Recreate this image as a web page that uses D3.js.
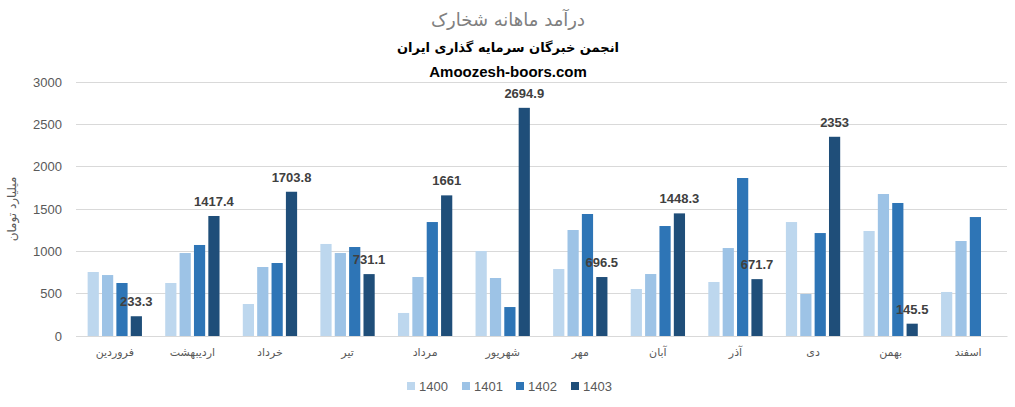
<!DOCTYPE html>
<html><head><meta charset="utf-8">
<script src="https://cdn.jsdelivr.net/npm/d3@7"></script>
<style>body{margin:0;background:#fff}svg{display:block}</style>
</head><body><svg id="c" width="1015" height="407"></svg>
<script>
const months = ["فروردین","اردیبهشت","خرداد","تیر","مرداد","شهریور","مهر","آبان","آذر","دی","بهمن","اسفند"];
const years = ["1400","1401","1402","1403"];
const v1400 = [756,626,378,1087,272,1004,791,555,638,1346,1240,520];
const v1401 = [720,980,815,980,697,685,1252,732,1039,496,1677,1122];
const v1402 = [626,1075,862,1051,1346,342,1441,1299,1866,1216,1571,1405];
const v1403 = [233.3,1417.4,1703.8,731.1,1661,2694.9,696.5,1448.3,671.7,2353,145.5,null];
const yTicks = [0,500,1000,1500,2000,2500,3000];
const colors = ["#BDD7EE","#9DC3E6","#2E75B6","#1F4E79"];
const series = [v1400,v1401,v1402,v1403];

const svg = d3.select("#c");
const m = {l:76, r:1007, t:82, b:336};
const x = d3.scaleBand().domain(months).range([m.l,m.r]).paddingInner(0.3).paddingOuter(0.15);
const xs = d3.scaleBand().domain(years).range([0,x.bandwidth()]).paddingInner(0.22);
const y = d3.scaleLinear().domain([0,3000]).range([m.b,m.t]);

// gridlines
svg.append("g").selectAll("line").data(yTicks).join("line")
  .attr("x1",m.l).attr("x2",m.r).attr("y1",d=>y(d)).attr("y2",d=>y(d))
  .attr("stroke","#d9d9d9").attr("stroke-width",1).attr("shape-rendering","crispEdges");

// y axis labels
const yAxis = d3.axisLeft(y).tickValues(yTicks).tickFormat(d3.format("d")).tickSize(0).tickPadding(14);
const ya = svg.append("g").attr("transform",`translate(${m.l},0)`).call(yAxis);
ya.select(".domain").remove();
ya.selectAll("text").attr("font-family","'Liberation Sans',Arial,sans-serif").attr("font-size",13).attr("fill","#595959");

// bars
series.forEach((s,i)=>{
  svg.append("g").selectAll("rect").data(months.map((mo,j)=>({mo,v:s[j]})).filter(d=>d.v!=null)).join("rect")
    .attr("x",d=>x(d.mo)+xs(years[i])).attr("width",xs.bandwidth())
    .attr("y",d=>y(d.v)).attr("height",d=>y(0)-y(d.v)).attr("fill",colors[i]);
});

// data labels on 1403
svg.append("g").selectAll("text").data(months.map((mo,j)=>({mo,v:v1403[j]})).filter(d=>d.v!=null)).join("text")
  .attr("x",d=>x(d.mo)+xs("1403")+xs.bandwidth()/2).attr("y",d=>y(d.v)-10)
  .attr("text-anchor","middle").attr("font-family","'Liberation Sans',Arial,sans-serif")
  .attr("font-weight","bold").attr("font-size",13).attr("fill","#404040").text(d=>d.v);

// x axis labels
const xa = svg.append("g").attr("transform",`translate(0,${m.b})`).call(d3.axisBottom(x).tickSize(0).tickPadding(12));
xa.select(".domain").attr("stroke","#d9d9d9");
xa.selectAll("text").attr("font-family","'DejaVu Sans',sans-serif").attr("font-size",11).attr("fill","#595959");

// titles
svg.append("text").attr("x",508).attr("y",26).attr("text-anchor","middle").attr("font-family","'DejaVu Sans',sans-serif").attr("font-size",18).attr("fill","#808080").text("درآمد ماهانه شخارک");
svg.append("text").attr("x",508).attr("y",52).attr("text-anchor","middle").attr("font-family","'DejaVu Sans',sans-serif").attr("font-weight","bold").attr("font-size",13).attr("fill","#000").text("انجمن خبرگان سرمایه گذاری ایران");
svg.append("text").attr("x",508).attr("y",77).attr("text-anchor","middle").attr("font-family","'Liberation Sans',Arial,sans-serif").attr("font-weight","bold").attr("font-size",15).attr("fill","#000").text("Amoozesh-boors.com");

// y title
svg.append("text").attr("transform","translate(16,209) rotate(-90)").attr("text-anchor","middle").attr("font-family","'DejaVu Sans',sans-serif").attr("font-size",12).attr("fill","#595959").text("میلیارد تومان");

// legend
const lg = svg.append("g").attr("transform","translate(0,387)");
const lx = [407,462,516,571];
years.forEach((yr,i)=>{
  lg.append("rect").attr("x",lx[i]).attr("y",-5).attr("width",8).attr("height",8).attr("fill",colors[i]);
  lg.append("text").attr("x",lx[i]+12).attr("y",4).attr("font-family","'Liberation Sans',Arial,sans-serif").attr("font-size",13).attr("fill","#595959").text(yr);
});
</script></body></html>
